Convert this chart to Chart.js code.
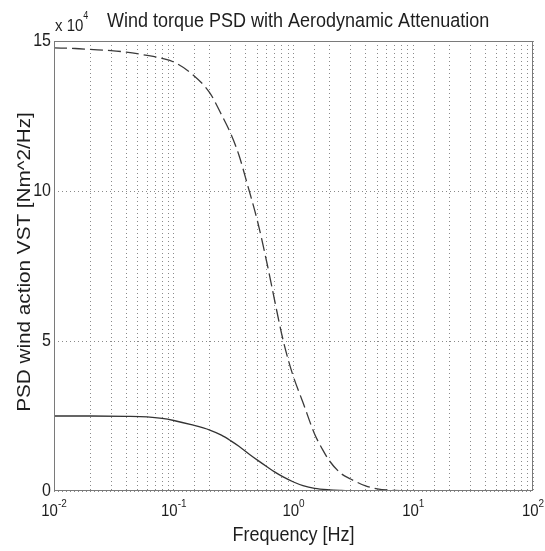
<!DOCTYPE html>
<html>
<head>
<meta charset="utf-8">
<script src="https://cdn.jsdelivr.net/npm/chart.js@4/dist/chart.umd.min.js"></script>
<style>
  html, body { margin: 0; padding: 0; background: #fff; }
  #wrap { width: 545px; height: 551px; position: relative; }
</style>
</head>
<body>
<div id="wrap"><canvas id="psdChart" width="545" height="551"></canvas></div>
<script>
// frequencies (Hz) and PSD values in units of 10^4 Nm^2/Hz
const freqsDashed = [0.01, 0.015, 0.02, 0.03, 0.04, 0.06, 0.08, 0.1, 0.14, 0.2, 0.25, 0.3, 0.35, 0.41, 0.5, 0.6, 0.7, 0.8, 0.9, 1.0, 1.2, 1.5, 1.75, 2.0, 2.5, 3, 4, 5, 7, 10, 20, 100];
const psdDashed = [14.77, 14.75, 14.72, 14.68, 14.63, 14.52, 14.42, 14.3, 13.92, 13.27, 12.55, 11.9, 11.2, 10.25, 9.0, 7.6, 6.3, 5.2, 4.4, 3.8, 2.95, 1.9, 1.38, 1.0, 0.58, 0.4, 0.17, 0.07, 0.02, 0, 0, 0];
const freqsSolid = [0.01, 0.02, 0.04, 0.06, 0.08, 0.1, 0.14, 0.2, 0.25, 0.3, 0.35, 0.43, 0.5, 0.6, 0.7, 0.82, 1.0, 1.2, 1.5, 2, 2.5, 3, 4, 10, 100];
const psdSolid = [2.5, 2.5, 2.49, 2.47, 2.42, 2.35, 2.21, 2.03, 1.86, 1.67, 1.49, 1.22, 1.03, 0.81, 0.63, 0.47, 0.3, 0.18, 0.09, 0.04, 0.02, 0.01, 0, 0, 0];
const xDecades = [0.01, 0.1, 1, 10, 100];
const xDecadeExp = ['-2', '-1', '0', '1', '2'];
const yTicks = [0, 5, 10, 15];

const FONT = '"Liberation Sans", Arial, sans-serif';
const STRETCH = 1.15; // the picture looks a bit taller than wide

function toPoints(xs, ys) {
  return xs.map((f, i) => ({ x: f, y: ys[i] }));
}

function putText(ctx, txt, x, y, size, align) {
  ctx.save();
  ctx.translate(x, y);
  ctx.scale(1, STRETCH);
  ctx.font = size + 'px ' + FONT;
  ctx.textAlign = align;
  ctx.textBaseline = 'middle';
  ctx.fillText(txt, 0, 0);
  ctx.restore();
}

// draws the matlab-like box, tick labels and titles
const decorPlugin = {
  id: 'decor',
  afterDraw(chart) {
    const ctx = chart.ctx;
    const area = chart.chartArea;
    const xs = chart.scales.x;
    const ys = chart.scales.y;
    ctx.save();

    ctx.strokeStyle = '#7a7a7a';
    ctx.lineWidth = 1;
    ctx.strokeRect(area.left + 0.5, area.top + 0.5, area.right - area.left - 1, area.bottom - area.top - 1);

    ctx.fillStyle = '#1e1e1e';

    // y tick labels
    yTicks.forEach(v => {
      putText(ctx, String(v), area.left - 3, ys.getPixelForValue(v), 16, 'right');
    });

    // x tick labels 10^n
    xDecades.forEach((v, i) => {
      const px = xs.getPixelForValue(v);
      ctx.font = '15px ' + FONT;
      const w1 = ctx.measureText('10').width;
      ctx.font = '10px ' + FONT;
      const w2 = ctx.measureText(xDecadeExp[i]).width;
      const start = px - (w1 + w2) / 2;
      putText(ctx, '10', start, area.bottom + 20, 15, 'left');
      putText(ctx, xDecadeExp[i], start + w1, area.bottom + 13, 10, 'left');
    });

    // exponent multiplier
    ctx.font = '15px ' + FONT;
    const wx = ctx.measureText('x 10').width;
    putText(ctx, 'x 10', area.left + 1, area.top - 15, 15, 'left');
    putText(ctx, '4', area.left + 1 + wx, area.top - 25, 9, 'left');

    // title
    putText(ctx, 'Wind torque PSD with Aerodynamic Attenuation', 107, area.top - 20, 18, 'left');

    // x axis title
    putText(ctx, 'Frequency [Hz]', (area.left + area.right) / 2, area.bottom + 44, 18, 'center');

    // y axis title (stretched along its length)
    ctx.save();
    ctx.translate(25, 262);
    ctx.rotate(-Math.PI / 2);
    ctx.scale(STRETCH, 1);
    ctx.font = '18px ' + FONT;
    ctx.textAlign = 'center';
    ctx.textBaseline = 'middle';
    ctx.fillText('PSD wind action VST [Nm^2/Hz]', 0, 0);
    ctx.restore();

    ctx.restore();
  }
};

new Chart(document.getElementById('psdChart'), {
  type: 'line',
  data: {
    datasets: [
      {
        label: 'PSD without attenuation',
        data: toPoints(freqsDashed, psdDashed),
        borderColor: '#3a3a3a',
        borderWidth: 1.3,
        borderDash: [13, 5],
        pointRadius: 0,
        cubicInterpolationMode: 'monotone',
        fill: false
      },
      {
        label: 'PSD with aerodynamic attenuation',
        data: toPoints(freqsSolid, psdSolid),
        borderColor: '#333',
        borderWidth: 1.3,
        pointRadius: 0,
        cubicInterpolationMode: 'monotone',
        fill: false
      }
    ]
  },
  options: {
    responsive: false,
    animation: false,
    layout: { padding: { left: 54, right: 12, top: 41, bottom: 60 } },
    plugins: {
      legend: { display: false },
      tooltip: { enabled: false }
    },
    scales: {
      x: {
        type: 'logarithmic',
        min: 0.01,
        max: 100,
        afterFit: s => { s.height = 0; },
        ticks: { display: false, autoSkip: false },
        grid: { color: '#8a8a8a', lineWidth: 1, drawTicks: false },
        border: { display: false, dash: [1, 3] }
      },
      y: {
        type: 'linear',
        min: 0,
        max: 15,
        afterFit: s => { s.width = 0; },
        ticks: { display: false, stepSize: 5 },
        grid: { color: '#8a8a8a', lineWidth: 1, drawTicks: false },
        border: { display: false, dash: [1, 3] }
      }
    }
  },
  plugins: [decorPlugin]
});
</script>
</body>
</html>
